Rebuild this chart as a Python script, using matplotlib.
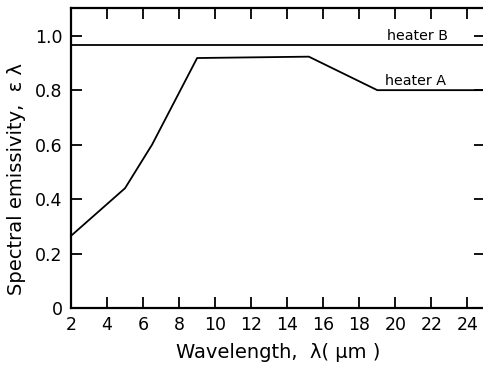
import matplotlib
matplotlib.use("Agg")
import matplotlib.pyplot as plt
from matplotlib.ticker import FuncFormatter, MultipleLocator

heater_a_x = [2, 5, 6.5, 9, 15.2, 19, 25]
heater_a_y = [0.265, 0.44, 0.60, 0.918, 0.923, 0.80, 0.80]
heater_b_x = [2, 25]
heater_b_y = [0.965, 0.965]
labels = ["heater A", "heater B"]

fig = plt.figure(figsize=(4.83, 3.68), dpi=100)
ax = fig.add_axes([0.147, 0.163, 0.858, 0.814])

ax.plot(heater_b_x, heater_b_y, color="black", lw=1.3, clip_on=False)
ax.plot(heater_a_x, heater_a_y, color="black", lw=1.3, clip_on=False)

ax.text(19.55, 1.0, labels[1], fontsize=10.3, ha="left", va="center")
ax.text(19.45, 0.835, labels[0], fontsize=10.3, ha="left", va="center")

ax.set_xlim(2, 25)
ax.set_ylim(0, 1.1)
ax.xaxis.set_major_locator(MultipleLocator(2))
ax.yaxis.set_major_locator(MultipleLocator(0.2))

def yfmt(v, pos):
    if abs(v) < 1e-9:
        return "0"
    return f"{v:.1f}"
ax.yaxis.set_major_formatter(FuncFormatter(yfmt))

ax.tick_params(direction="in", length=8, width=1.3, top=True, right=True,
               labelsize=12.5, pad=6)
for s in ax.spines.values():
    s.set_linewidth(1.6)

ax.set_xlabel("Wavelength,  λ( μm )", fontsize=14, labelpad=6)
ax.set_ylabel("Spectral emissivity,  ε λ", fontsize=14, labelpad=5)
ax.yaxis.set_label_coords(-0.108, 0.43)

fig.savefig("out.png", dpi=100)
